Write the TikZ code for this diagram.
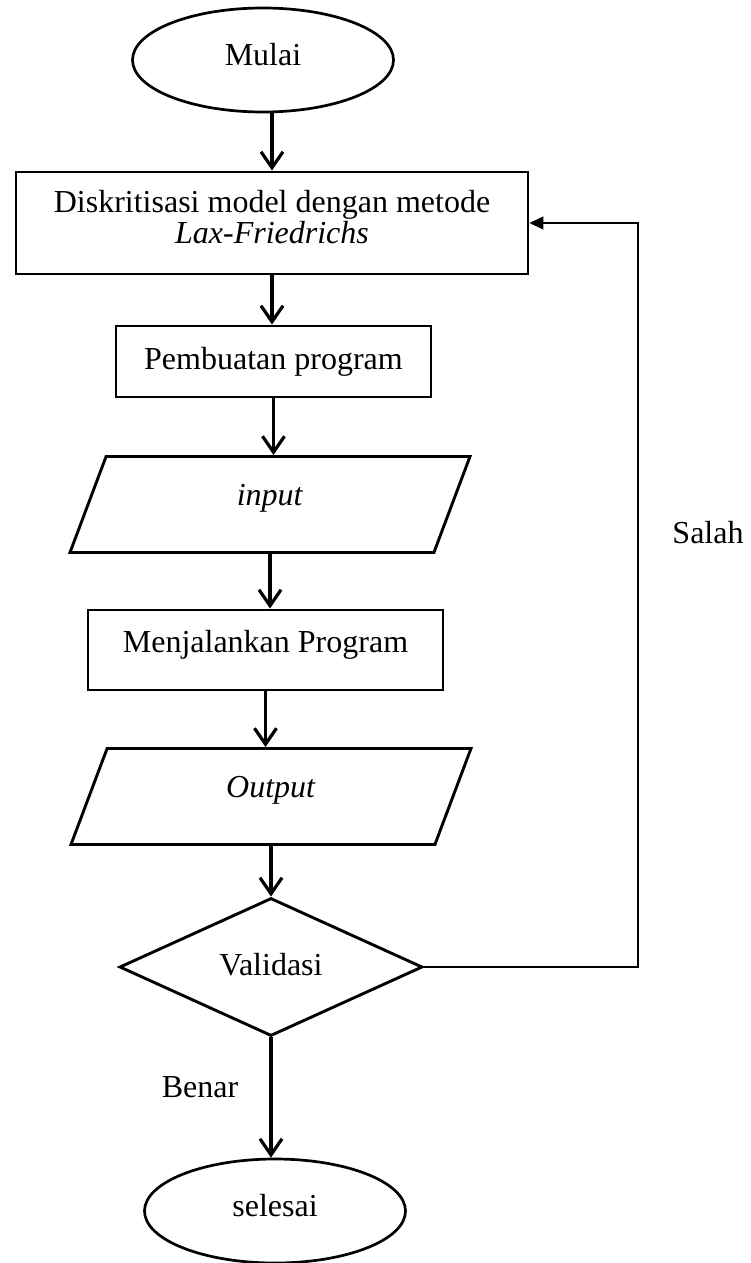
\documentclass[tikz,border=0pt]{standalone}
\usepackage{fontspec}
\setmainfont{Liberation Serif}
\usetikzlibrary{shapes.geometric, arrows.meta}

\begin{document}
\begin{tikzpicture}[x=1pt, y=-1pt,
  every node/.style={font=\fontsize{32}{31}\selectfont},
  kotak/.style={draw, line width=2.9pt, inner sep=0pt},
  ujung/.style={draw, ellipse, line width=2.7pt, inner sep=0pt,
    minimum width=261pt, minimum height=104pt, text depth=12pt},
  jajar/.style={draw, trapezium, trapezium left angle=50, trapezium right angle=130,
    trapezium stretches body, line width=2.9pt, inner sep=0pt,
    minimum width=400pt, minimum height=96pt, text height=22pt, text depth=21pt},
  alur/.style={line width=3.2pt, -{Straight Barb[length=16pt, width=22pt]}},
  balik/.style={line width=1.3pt, -{Triangle[length=14pt, width=13pt]}}
]
  \useasboundingbox (0,0) rectangle (751,1263);

  % langkah-langkah
  \node[ujung] (mulai) at (263,60) {Mulai};
  \node[kotak, minimum width=512pt, minimum height=102pt, align=center] (disk) at (272,223)
    {Diskritisasi model dengan metode\\ \textit{Lax-Friedrichs}\rule[-12pt]{0pt}{12pt}};
  \node[kotak, minimum width=315pt, minimum height=71pt] (pemb) at (273.5,361.5) {Pembuatan program};
  \node[jajar] (input) at (270,504.5) {\textit{input}};
  \node[kotak, minimum width=355pt, minimum height=80pt, text height=22pt, text depth=18pt]
    (menj) at (265.5,650) {Menjalankan Program};
  \node[jajar] (output) at (271,796.5) {\textit{Output}};
  \node[draw, diamond, aspect=2.19, line width=2.9pt, inner sep=0pt, minimum width=303pt,
    minimum height=138pt, text depth=6pt] (valid) at (271,967) {Validasi};
  \node[ujung] (selesai) at (275,1211) {selesai};

  % label
  \node (benar) at (200,1087) {Benar};
  \node (salah) at (708,533) {Salah};

  % panah
  \draw[alur] (disk.north |- mulai.south) -- (disk.north);
  \foreach \a/\b in {disk/pemb, pemb/input, input/menj, menj/output, output/valid, valid/selesai}
    \draw[alur] (\a.south) -- (\a.south |- \b.north);

  \coordinate (belok) at (638,223);
  \draw[balik] (valid.east) -| (belok) -- (disk.east);

\end{tikzpicture}
\end{document}
